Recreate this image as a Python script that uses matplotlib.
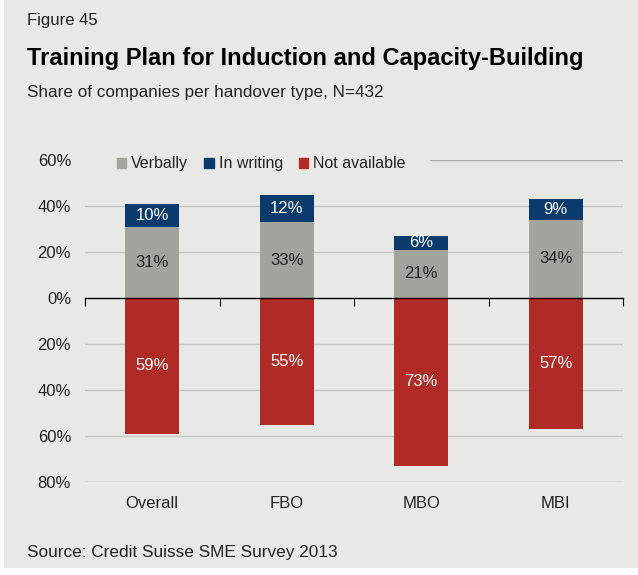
import numpy as np
import matplotlib.pyplot as plt
from matplotlib.patches import Patch, Rectangle

plt.rcParams['font.family'] = ['Liberation Sans', 'DejaVu Sans']

categories = ["Overall", "FBO", "MBO", "MBI"]
verbally = [31, 33, 21, 34]
in_writing = [10, 12, 6, 9]
not_available = [59, 55, 73, 57]
y_ticks = [-80, -60, -40, -20, 0, 20, 40, 60]

BG = "#e8e9e6"
GREY = "#a2a59e"
BLUE = "#0b3a6c"
RED = "#b02b26"
TEXT = "#222222"

fig = plt.figure(figsize=(6.38, 5.75), dpi=100, facecolor="white")
fig.patches.append(Rectangle((4 / 638, 7 / 575), 1, 1, transform=fig.transFigure,
                             facecolor=BG, edgecolor="none", zorder=-10))

fig.text(27 / 638, 1 - 20 / 575, "Figure 45", fontsize=12, color=TEXT, va="center")
fig.text(27 / 638, 1 - 58 / 575, "Training Plan for Induction and Capacity-Building",
         fontsize=17, fontweight="bold", color="black", va="center")
fig.text(27 / 638, 1 - 93 / 575, "Share of companies per handover type, N=432",
         fontsize=12.3, color=TEXT, va="center")
fig.text(27 / 638, 1 - 552 / 575, "Source: Credit Suisse SME Survey 2013",
         fontsize=12.4, color=TEXT, va="center")

ax = fig.add_axes([85 / 638, 1 - 482 / 575, 538 / 638, 322 / 575])
ax.set_facecolor(BG)

x = np.arange(len(categories))
w = 0.4
neg = -np.array(not_available)
ax.bar(x, verbally, w, color=GREY, zorder=3)
ax.bar(x, in_writing, w, bottom=verbally, color=BLUE, zorder=3)
ax.bar(x, neg, w, color=RED, zorder=3)

# value labels centred in each segment
for i in range(len(categories)):
    ax.text(x[i], verbally[i] / 2, f"{verbally[i]}%", ha="center", va="center",
            fontsize=12, color=TEXT, zorder=4)
    ax.text(x[i], verbally[i] + in_writing[i] / 2, f"{in_writing[i]}%", ha="center",
            va="center", fontsize=12, color="white", zorder=4)
    ax.text(x[i], neg[i] / 2, f"{not_available[i]}%", ha="center", va="center",
            fontsize=12, color="white", zorder=4)

ax.set_xlim(-0.5, len(categories) - 0.5)
ax.set_ylim(-80, 60)
ax.set_yticks(y_ticks)
ax.set_yticklabels([f"{abs(v)}%" for v in y_ticks])
ax.set_xticks(x)
ax.set_xticklabels(categories)
ax.tick_params(axis="both", length=0, labelsize=12, colors=TEXT)
ax.tick_params(axis="y", pad=10)
ax.tick_params(axis="x", pad=10)
for s in ax.spines.values():
    s.set_visible(False)

# gridlines; the top one only to the right of the legend
for v in y_ticks:
    if v == 0:
        continue
    c = "#a8a9a6" if v in (60, -80) else "#c6c7c4"
    start = 345 / 538 if v == 60 else 0
    ax.axhline(v, xmin=start, color=c, lw=1, zorder=1)

# zero line with category separators hanging below it
zero = ax.secondary_xaxis(80 / 140)
zero.set_zorder(6)
zero.spines["bottom"].set_color("black")
zero.spines["bottom"].set_linewidth(1)
zero.spines["top"].set_color("black")
zero.spines["top"].set_linewidth(1)
zero.set_xticks(np.arange(len(categories) + 1) - 0.5)
zero.set_xticklabels([])
zero.tick_params(direction="in", length=6, width=0.8, color="black")

handles = [Patch(color=GREY), Patch(color=BLUE), Patch(color=RED)]
leg = ax.legend(handles, ["Verbally", "In writing", "Not available"], ncol=3,
                loc="center left", bbox_to_anchor=(27 / 538, 1 - 4 / 322), frameon=False,
                fontsize=11.5, handlelength=0.6, handleheight=0.6, handletextpad=0.3,
                columnspacing=1.0, borderpad=0.3, borderaxespad=0)
for t in leg.get_texts():
    t.set_color(TEXT)
leg.set_zorder(5)

fig.savefig("out.png", dpi=100, facecolor=fig.get_facecolor())
